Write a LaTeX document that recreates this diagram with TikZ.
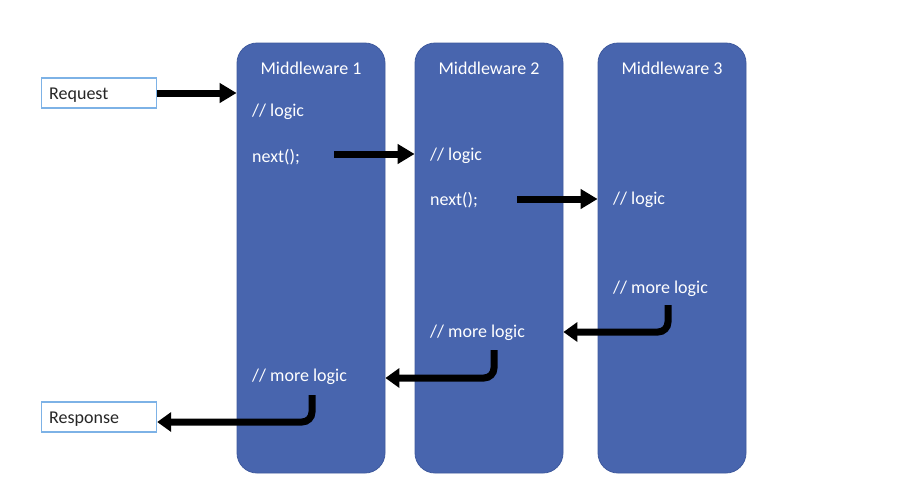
\documentclass[tikz,border=0pt]{standalone}
\usepackage{fontspec}
\setmainfont{Carlito}
\usetikzlibrary{arrows.meta}
\definecolor{mwblue}{HTML}{4865AE}
\definecolor{mwedge}{HTML}{3F5A9E}
\definecolor{ioedge}{HTML}{7DB2E6}
\definecolor{iotext}{HTML}{262626}
\begin{document}
\begin{tikzpicture}[x=1pt,y=-1pt,
  mwbox/.style={draw=mwedge,line width=0.8pt,fill=mwblue,rounded corners=20pt,minimum width=148pt,minimum height=430pt,inner sep=0pt},
  mwtitle/.style={text=white,font=\fontsize{18}{21}\selectfont,anchor=center},
  mwtext/.style={text=white,font=\fontsize{18}{21}\selectfont,anchor=west,inner sep=0pt},
  iobox/.style={draw=ioedge,line width=1.2pt,fill=white,minimum width=115pt,minimum height=30pt,inner sep=0pt,text=iotext,font=\fontsize{18}{21}\selectfont},
  iotext/.style={anchor=west,inner sep=0pt,text=iotext,font=\fontsize{18}{21}\selectfont},
  flow/.style={line width=7pt,-{Triangle[length=17pt,width=19pt]}},
  back/.style={line width=7pt,rounded corners=10pt,-{Triangle[length=14pt,width=19pt]}}]
\useasboundingbox (0,0) rectangle (897,496);
\fill[white] (0,0) rectangle (897,496);
% middleware boxes
\node[mwbox] (m1) at (311,258) {};
\node[mwbox] (m2) at (489,258) {};
\node[mwbox] (m3) at (672,258) {};
\node[mwtitle] (t1) at (311,68) {Middleware 1};
\node[mwtitle] (t2) at (489,68) {Middleware 2};
\node[mwtitle] (t3) at (672,68) {Middleware 3};
% texts
\node[mwtext] (l1) at (252,112) {// logic};
\node[mwtext] (n1) at (252,157) {next();};
\node[mwtext] (ml1) at (252,377) {// more logic};
\node[mwtext] (l2) at (430,156) {// logic};
\node[mwtext] (n2) at (430,200) {next();};
\node[mwtext] (ml2) at (430,333) {// more logic};
\node[mwtext] (l3) at (613,200) {// logic};
\node[mwtext] (ml3) at (613,289) {// more logic};
% request / response
\node[iobox,anchor=west] (req) at (41,93) {};
\node[iobox,anchor=west] (res) at (41,417) {};
\node[iotext] (reqt) at (49,95) {Request};
\node[iotext] (rest) at (49,419) {Response};
% coordinates
\coordinate (s1) at (334,154);
\coordinate (s2) at (517,199);
\coordinate (r3) at (668,305);
\coordinate (r2) at (494,350);
\coordinate (r1) at (312,395);
% arrows
\draw[flow] (req.east) -- (req.east -| m1.west);
\draw[flow] (s1) -- (s1 -| m2.west);
\draw[flow] (s2) -- (s2 -| m3.west);
\draw[back] (r3) -- (668,332) -- (m2.east |- 0,332);
\draw[back] (r2) -- (494,378) -- (m1.east |- 0,378);
\draw[back] (r1) -- (312,422) -- (res.east |- 0,422);
\end{tikzpicture}
\end{document}
